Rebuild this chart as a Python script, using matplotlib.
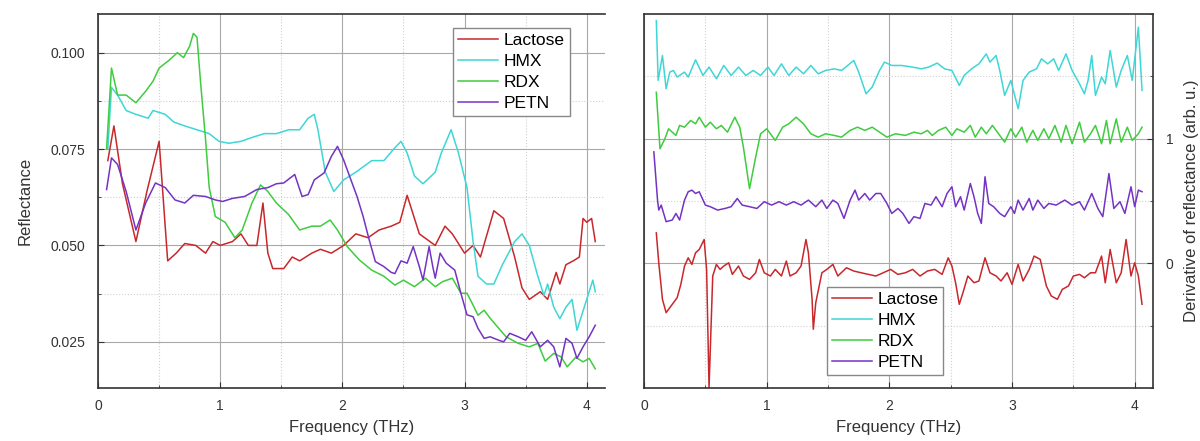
import matplotlib
matplotlib.use("Agg")
import matplotlib.pyplot as plt
from matplotlib.ticker import MultipleLocator

plt.rcParams['font.family'] = ['Liberation Sans', 'DejaVu Sans']

# ---- left panel: reflectance spectra ----
lac_f = [0.08, 0.13, 0.20, 0.31, 0.40, 0.50, 0.57, 0.64, 0.71, 0.80, 0.88, 0.94, 1.00, 1.10, 1.17,
         1.23, 1.30, 1.35, 1.39, 1.43, 1.52, 1.59, 1.65, 1.75, 1.82, 1.91, 2.01, 2.11, 2.21, 2.30,
         2.40, 2.47, 2.53, 2.58, 2.63, 2.76, 2.84, 2.90, 3.00, 3.07, 3.13, 3.24, 3.32, 3.41, 3.47,
         3.53, 3.62, 3.68, 3.75, 3.78, 3.83, 3.89, 3.94, 3.97, 4.00, 4.04, 4.07]
lac_r = [0.072, 0.081, 0.066, 0.051, 0.064, 0.077, 0.046, 0.048, 0.0505, 0.050, 0.048, 0.051, 0.050,
         0.051, 0.053, 0.050, 0.050, 0.061, 0.048, 0.044, 0.044, 0.047, 0.046, 0.048, 0.049, 0.048,
         0.050, 0.053, 0.052, 0.054, 0.055, 0.056, 0.063, 0.058, 0.053, 0.050, 0.055, 0.053, 0.048,
         0.050, 0.047, 0.059, 0.057, 0.047, 0.039, 0.036, 0.038, 0.036, 0.043, 0.040, 0.045, 0.046,
         0.047, 0.057, 0.056, 0.057, 0.051]

hmx_f = [0.08, 0.11, 0.16, 0.23, 0.31, 0.41, 0.45, 0.55, 0.62, 0.71, 0.81, 0.91, 0.99, 1.07, 1.17,
         1.26, 1.36, 1.46, 1.56, 1.65, 1.72, 1.77, 1.80, 1.86, 1.93, 2.01, 2.11, 2.24, 2.34, 2.42,
         2.48, 2.53, 2.59, 2.66, 2.76, 2.81, 2.89, 2.95, 3.02, 3.07, 3.11, 3.18, 3.24, 3.31, 3.36,
         3.41, 3.47, 3.53, 3.60, 3.65, 3.68, 3.73, 3.78, 3.83, 3.88, 3.92, 3.97, 4.02, 4.05, 4.07]
hmx_r = [0.075, 0.091, 0.089, 0.085, 0.084, 0.083, 0.085, 0.084, 0.082, 0.081, 0.080, 0.079, 0.077,
         0.0765, 0.077, 0.078, 0.079, 0.079, 0.080, 0.080, 0.083, 0.084, 0.080, 0.069, 0.064, 0.067,
         0.069, 0.072, 0.072, 0.075, 0.077, 0.074, 0.068, 0.066, 0.069, 0.074, 0.080, 0.074, 0.065,
         0.051, 0.042, 0.040, 0.040, 0.045, 0.048, 0.051, 0.053, 0.050, 0.042, 0.037, 0.040, 0.034,
         0.031, 0.034, 0.036, 0.028, 0.033, 0.038, 0.041, 0.038]

rdx_f = [0.07, 0.11, 0.16, 0.23, 0.31, 0.39, 0.45, 0.50, 0.58, 0.65, 0.70, 0.75, 0.78, 0.81, 0.84,
         0.88, 0.91, 0.96, 1.04, 1.12, 1.18, 1.26, 1.33, 1.39, 1.46, 1.56, 1.65, 1.75, 1.82, 1.90,
         1.96, 2.04, 2.14, 2.24, 2.34, 2.43, 2.50, 2.59, 2.68, 2.76, 2.82, 2.90, 2.97, 3.02, 3.07,
         3.11, 3.16, 3.21, 3.28, 3.34, 3.44, 3.53, 3.60, 3.66, 3.73, 3.79, 3.84, 3.91, 3.97, 4.02, 4.07]
rdx_r = [0.075, 0.096, 0.089, 0.089, 0.087, 0.090, 0.0926, 0.096, 0.098, 0.100, 0.0987, 0.1017, 0.105,
         0.104, 0.092, 0.0775, 0.065, 0.0575, 0.056, 0.052, 0.054, 0.061, 0.0657, 0.064, 0.061, 0.058,
         0.054, 0.055, 0.055, 0.0566, 0.054, 0.0497, 0.0462, 0.0436, 0.042, 0.0397, 0.041, 0.0393,
         0.0415, 0.0393, 0.0406, 0.0415, 0.0376, 0.0376, 0.0345, 0.0319, 0.0332, 0.0311, 0.0285,
         0.0263, 0.0246, 0.0237, 0.0246, 0.020, 0.022, 0.0211, 0.0185, 0.021, 0.0198, 0.0207, 0.018]

petn_f = [0.07, 0.11, 0.16, 0.23, 0.31, 0.39, 0.47, 0.55, 0.63, 0.71, 0.78, 0.88, 0.96, 1.02, 1.10,
          1.20, 1.30, 1.39, 1.46, 1.52, 1.61, 1.67, 1.72, 1.77, 1.85, 1.91, 1.96, 2.01, 2.07, 2.12,
          2.17, 2.22, 2.27, 2.34, 2.40, 2.43, 2.48, 2.53, 2.58, 2.63, 2.66, 2.71, 2.74, 2.76, 2.80,
          2.85, 2.92, 2.97, 3.02, 3.07, 3.11, 3.16, 3.21, 3.28, 3.32, 3.37, 3.44, 3.50, 3.55, 3.62,
          3.68, 3.73, 3.78, 3.83, 3.88, 3.92, 3.97, 4.02, 4.07]
petn_r = [0.0645, 0.0727, 0.071, 0.064, 0.054, 0.061, 0.0662, 0.065, 0.0618, 0.061, 0.063, 0.0627,
          0.0618, 0.0614, 0.0622, 0.0627, 0.0645, 0.065, 0.066, 0.0662, 0.0684, 0.0627, 0.0632,
          0.067, 0.0688, 0.0731, 0.0757, 0.0722, 0.067, 0.0627, 0.0575, 0.0514, 0.0458, 0.0445,
          0.043, 0.0427, 0.046, 0.0454, 0.0497, 0.0445, 0.041, 0.0497, 0.0445, 0.0415, 0.048, 0.0454,
          0.0436, 0.0376, 0.032, 0.0315, 0.0285, 0.0259, 0.0263, 0.0254, 0.025, 0.0272, 0.0263,
          0.0254, 0.0276, 0.0237, 0.0254, 0.0237, 0.0185, 0.0259, 0.0246, 0.0207, 0.0237, 0.0263, 0.0293]

# ---- right panel: derivative, offset traces ----
dlac_f = [0.10, 0.12, 0.15, 0.18, 0.21, 0.24, 0.27, 0.30, 0.33, 0.36, 0.39, 0.42, 0.45, 0.49, 0.51,
          0.53, 0.56, 0.59, 0.62, 0.65, 0.69, 0.72, 0.77, 0.81, 0.86, 0.91, 0.94, 0.98, 1.03, 1.07,
          1.12, 1.16, 1.19, 1.24, 1.28, 1.32, 1.34, 1.37, 1.38, 1.40, 1.45, 1.49, 1.54, 1.58, 1.65,
          1.71, 1.77, 1.83, 1.89, 1.95, 2.01, 2.07, 2.13, 2.19, 2.25, 2.31, 2.37, 2.43, 2.48, 2.51,
          2.54, 2.57, 2.60, 2.64, 2.69, 2.73, 2.78, 2.82, 2.87, 2.91, 2.96, 3.00, 3.05, 3.09, 3.14,
          3.18, 3.23, 3.28, 3.32, 3.37, 3.41, 3.46, 3.50, 3.55, 3.59, 3.64, 3.68, 3.73, 3.76, 3.80,
          3.85, 3.89, 3.93, 3.97, 4.00, 4.03, 4.06]
dlac = [0.245, 0.005, -0.288, -0.395, -0.355, -0.315, -0.275, -0.168, -0.021, 0.045, -0.008, 0.085,
        0.112, 0.192, -0.048, -0.995, -0.101, -0.008, -0.048, -0.021, 0.005, -0.088, -0.021, -0.101,
        -0.128, -0.075, 0.032, -0.075, -0.101, -0.048, -0.101, 0.019, -0.101, -0.075, -0.021, 0.192,
        0.085, -0.288, -0.528, -0.315, -0.075, -0.048, -0.008, -0.101, -0.035, -0.061, -0.075,
        -0.088, -0.101, -0.075, -0.048, -0.088, -0.075, -0.048, -0.101, -0.061, -0.048, -0.088,
        0.045, -0.021, -0.155, -0.328, -0.235, -0.101, -0.155, -0.141, 0.045, -0.075, -0.101,
        -0.141, -0.075, -0.168, -0.008, -0.141, -0.048, 0.059, 0.032, -0.181, -0.261, -0.288,
        -0.208, -0.181, -0.101, -0.088, -0.115, -0.075, -0.075, 0.059, -0.155, 0.112, -0.155,
        -0.075, 0.192, -0.101, 0.005, -0.101, -0.328]

dhmx_f = [0.10, 0.115, 0.15, 0.18, 0.21, 0.24, 0.27, 0.33, 0.36, 0.42, 0.48, 0.53, 0.59, 0.65, 0.71,
          0.77, 0.83, 0.89, 0.95, 1.01, 1.06, 1.12, 1.18, 1.24, 1.30, 1.36, 1.42, 1.48, 1.55, 1.61,
          1.66, 1.71, 1.75, 1.81, 1.86, 1.92, 1.96, 2.02, 2.10, 2.19, 2.26, 2.32, 2.39, 2.45, 2.51,
          2.57, 2.61, 2.67, 2.73, 2.79, 2.82, 2.87, 2.90, 2.94, 2.99, 3.05, 3.09, 3.14, 3.20, 3.24,
          3.29, 3.34, 3.38, 3.44, 3.49, 3.55, 3.59, 3.62, 3.65, 3.68, 3.73, 3.76, 3.80, 3.85, 3.89,
          3.94, 3.98, 4.03, 4.06]
dhmx = [1.948, 1.468, 1.668, 1.401, 1.535, 1.548, 1.495, 1.535, 1.495, 1.633, 1.508, 1.575, 1.481,
        1.588, 1.508, 1.575, 1.508, 1.548, 1.508, 1.575, 1.508, 1.601, 1.508, 1.575, 1.521, 1.588,
        1.521, 1.548, 1.561, 1.548, 1.588, 1.628, 1.535, 1.361, 1.415, 1.548, 1.615, 1.588, 1.588,
        1.575, 1.561, 1.575, 1.607, 1.561, 1.548, 1.428, 1.508, 1.561, 1.601, 1.681, 1.615, 1.668,
        1.548, 1.348, 1.468, 1.241, 1.468, 1.535, 1.561, 1.641, 1.601, 1.641, 1.548, 1.681, 1.548,
        1.441, 1.361, 1.468, 1.668, 1.348, 1.495, 1.441, 1.708, 1.415, 1.548, 1.668, 1.468, 1.895,
        1.388]

drdx_f = [0.10, 0.13, 0.17, 0.20, 0.23, 0.26, 0.29, 0.33, 0.38, 0.42, 0.45, 0.50, 0.54, 0.59, 0.63,
          0.68, 0.74, 0.78, 0.81, 0.86, 0.91, 0.95, 1.00, 1.07, 1.13, 1.18, 1.24, 1.30, 1.36, 1.42,
          1.48, 1.55, 1.61, 1.68, 1.74, 1.80, 1.86, 1.92, 1.98, 2.05, 2.13, 2.20, 2.26, 2.31, 2.35,
          2.40, 2.46, 2.51, 2.55, 2.61, 2.66, 2.70, 2.75, 2.79, 2.84, 2.90, 2.94, 2.99, 3.03, 3.08,
          3.12, 3.17, 3.21, 3.26, 3.30, 3.35, 3.40, 3.44, 3.49, 3.55, 3.59, 3.64, 3.68, 3.73, 3.77,
          3.80, 3.85, 3.89, 3.94, 3.98, 4.03, 4.06]
drdx = [1.373, 0.92, 1.0, 1.08, 1.053, 1.027, 1.107, 1.093, 1.147, 1.12, 1.173, 1.093, 1.133, 1.08,
        1.107, 1.053, 1.173, 1.093, 0.933, 0.60, 0.853, 1.04, 1.08, 0.987, 1.093, 1.12, 1.173, 1.12,
        1.04, 1.013, 1.04, 1.027, 1.013, 1.067, 1.093, 1.067, 1.093, 1.053, 1.013, 1.04, 1.027, 1.053,
        1.04, 1.067, 1.027, 1.067, 1.093, 1.027, 1.08, 1.053, 1.107, 1.013, 1.093, 1.04, 1.107, 1.027,
        0.973, 1.08, 1.013, 1.093, 0.973, 1.067, 0.987, 1.08, 1.0, 1.107, 0.973, 1.107, 0.96, 1.133,
        0.973, 1.04, 1.107, 0.96, 1.147, 0.96, 1.16, 0.973, 1.093, 0.987, 1.04, 1.093]

dpetn_f = [0.08, 0.11, 0.12, 0.14, 0.18, 0.23, 0.26, 0.29, 0.33, 0.36, 0.39, 0.42, 0.45, 0.50, 0.54,
           0.60, 0.66, 0.71, 0.76, 0.80, 0.86, 0.92, 0.98, 1.04, 1.10, 1.16, 1.22, 1.28, 1.34, 1.40,
           1.45, 1.49, 1.54, 1.58, 1.63, 1.68, 1.72, 1.75, 1.80, 1.84, 1.89, 1.93, 1.98, 2.02, 2.07,
           2.11, 2.16, 2.20, 2.25, 2.29, 2.34, 2.38, 2.43, 2.47, 2.51, 2.54, 2.58, 2.61, 2.66, 2.69,
           2.72, 2.75, 2.78, 2.81, 2.85, 2.90, 2.94, 2.99, 3.02, 3.05, 3.09, 3.14, 3.17, 3.21, 3.26,
           3.30, 3.36, 3.43, 3.49, 3.55, 3.59, 3.65, 3.70, 3.74, 3.79, 3.83, 3.88, 3.92, 3.97, 4.00,
           4.03, 4.06]
dpetn = [0.895, 0.508, 0.428, 0.468, 0.335, 0.348, 0.401, 0.348, 0.508, 0.575, 0.588, 0.561, 0.575,
         0.468, 0.455, 0.428, 0.441, 0.455, 0.521, 0.468, 0.455, 0.441, 0.495, 0.468, 0.495, 0.468,
         0.495, 0.468, 0.508, 0.455, 0.508, 0.441, 0.508, 0.481, 0.361, 0.508, 0.588, 0.508, 0.561,
         0.508, 0.561, 0.561, 0.481, 0.401, 0.441, 0.401, 0.321, 0.375, 0.361, 0.481, 0.468, 0.535,
         0.455, 0.561, 0.615, 0.455, 0.535, 0.428, 0.641, 0.535, 0.401, 0.321, 0.695, 0.481, 0.455,
         0.401, 0.375, 0.455, 0.401, 0.508, 0.428, 0.521, 0.428, 0.508, 0.441, 0.481, 0.468, 0.508,
         0.468, 0.495, 0.428, 0.561, 0.441, 0.375, 0.721, 0.441, 0.495, 0.401, 0.615, 0.455, 0.588,
         0.575]

names = ['Lactose', 'HMX', 'RDX', 'PETN']
colors = ['#c8282c', '#3fd6d6', '#3fcc3f', '#7433c4']

fig = plt.figure(figsize=(12, 4.41), dpi=100)
ax1 = fig.add_axes([0.0817, 0.120, 0.4225, 0.848])
ax2 = fig.add_axes([0.5367, 0.120, 0.4242, 0.848])

left_data = [(lac_f, lac_r), (hmx_f, hmx_r), (rdx_f, rdx_r), (petn_f, petn_r)]
right_data = [(dlac_f, dlac), (dhmx_f, dhmx), (drdx_f, drdx), (dpetn_f, dpetn)]

for (f, r), name, c in zip(left_data, names, colors):
    ax1.plot(f, r, color=c, lw=1.1, label=name)
for (f, r), name, c in zip(right_data, names, colors):
    ax2.plot(f, r, color=c, lw=1.1, label=name)

for ax in (ax1, ax2):
    ax.set_xlim(0, 4.15)
    ax.xaxis.set_major_locator(MultipleLocator(1))
    ax.xaxis.set_minor_locator(MultipleLocator(0.5))
    ax.grid(which='major', color='#a8a8a8', lw=0.8)
    ax.grid(which='minor', color='#d0d0d0', lw=0.8, ls=':')
    ax.set_axisbelow(True)
    ax.tick_params(which='both', direction='in', labelsize=10, color='#333333', labelcolor='#333333')
    ax.tick_params(which='major', length=4)
    ax.tick_params(which='minor', length=2.5)
    ax.tick_params(axis='x', pad=8)
    ax.set_xlabel('Frequency (THz)', fontsize=12, color='#333333', labelpad=5)
    for s in ax.spines.values():
        s.set_color('#333333')
        s.set_linewidth(1.2)

ax1.set_ylim(0.013, 0.110)
ax1.yaxis.set_major_locator(MultipleLocator(0.025))
ax1.yaxis.set_minor_locator(MultipleLocator(0.0125))
ax1.set_yticks([0.025, 0.050, 0.075, 0.100])
ax1.set_yticklabels(['0.025', '0.050', '0.075', '0.100'])
ax1.tick_params(axis='y', pad=9)
ax1.set_ylabel('Reflectance', fontsize=12, color='#333333', labelpad=13)
ax1.spines['right'].set_visible(False)

ax2.set_ylim(-1.0, 2.0)
ax2.yaxis.tick_right()
ax2.yaxis.set_label_position('right')
ax2.set_yticks([0, 1])
ax2.yaxis.set_minor_locator(MultipleLocator(0.5))
ax2.tick_params(axis='y', pad=9)
ax2.set_ylabel('Derivative of reflectance (arb. u.)', fontsize=12, color='#333333', labelpad=8)

leg_kw = dict(loc='upper left', fontsize=12.5, frameon=True, fancybox=False, framealpha=1,
              edgecolor='#888888', handlelength=2.3, handletextpad=0.3, labelspacing=0.33,
              borderpad=0.3, borderaxespad=0)
l1 = ax1.legend(bbox_to_anchor=(0.3775, 0.9365), bbox_transform=fig.transFigure, **leg_kw)
l2 = ax2.legend(bbox_to_anchor=(0.689, 0.349), bbox_transform=fig.transFigure, **leg_kw)
for l in (l1, l2):
    l.get_frame().set_linewidth(1.0)

fig.savefig('out.png', dpi=100)
